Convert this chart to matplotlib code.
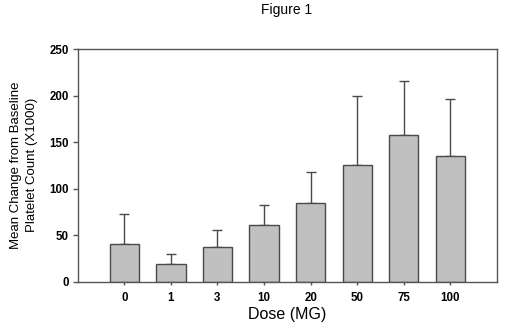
# Platelet count change by dose
import matplotlib.pyplot as plt
import numpy as np

doses = ["0", "1", "3", "10", "20", "50", "75", "100"]
mean_change = [41, 19, 37, 61, 85, 125, 158, 135]
error_upper = [32, 11, 19, 21, 33, 74, 58, 61]

plt.rcParams.update({
    'font.family': ['Liberation Sans', 'DejaVu Sans'],
    'axes.edgecolor': '#555555',
    'axes.linewidth': 1.0,
})

fig = plt.figure(figsize=(5.2, 3.24), dpi=100)
ax = fig.add_axes([77.7 / 520, 1 - 281.7 / 324, (497 - 77.7) / 520, (281.7 - 49) / 324])

x = np.arange(len(doses))
ax.bar(x, mean_change, width=0.63, color='#c0c0c0', edgecolor='#4a4a4a', linewidth=1.0, zorder=2)
ax.errorbar(x, mean_change, yerr=[np.zeros(len(x)), error_upper], fmt='none',
            ecolor='#4a4a4a', elinewidth=1.0, capsize=3.5, capthick=1.0, zorder=1)

ax.set_xlim(-1, len(doses))
ax.set_ylim(0, 250)
ax.set_xticks(x)
ax.set_xticklabels(doses)
ax.set_yticks([0, 50, 100, 150, 200, 250])
ax.tick_params(axis='y', direction='out', length=3.5, width=1.0, color='#555555',
               labelsize=8.3, pad=3)
ax.tick_params(axis='x', direction='out', length=2.5, width=1.0, color='#555555',
               labelsize=8.3, pad=5)
for lab in ax.get_xticklabels() + ax.get_yticklabels():
    lab.set_fontweight('bold')

ax.set_xlabel("Dose (MG)", fontsize=11.5, labelpad=2)
ax.set_ylabel("Mean Change from Baseline\nPlatelet Count (X1000)", fontsize=9.5, labelpad=8,
              linespacing=1.4)
fig.text(287 / 520, 1 - 10 / 324, "Figure 1", fontsize=10, ha='center', va='center')

fig.savefig("out.png", dpi=100)
